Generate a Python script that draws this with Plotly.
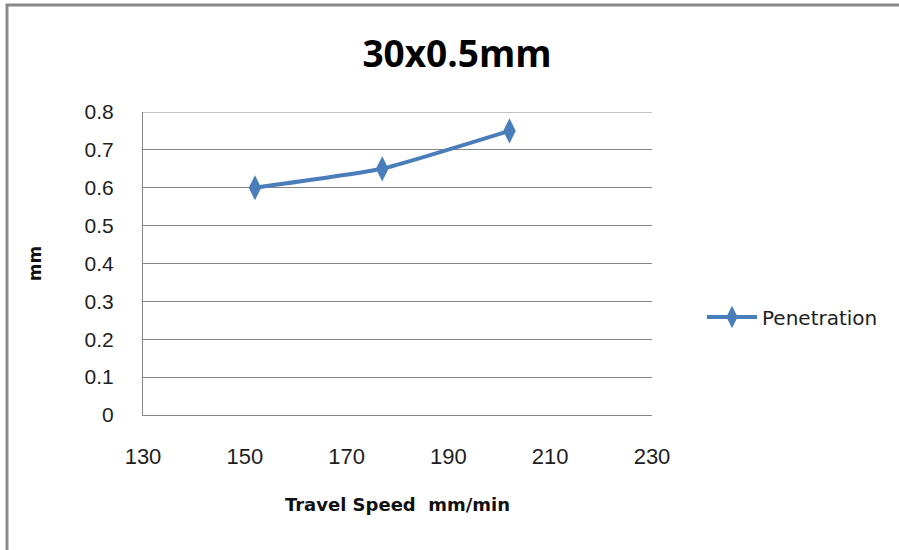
import plotly.graph_objects as go

# Penetration depth versus travel speed
travel_speed = [152, 177, 202]
penetration = [0.60, 0.65, 0.75]

x_ticks = [130, 150, 170, 190, 210, 230]
y_ticks = [0, 0.1, 0.2, 0.3, 0.4, 0.5, 0.6, 0.7, 0.8]
y_tick_text = ["0", "0.1", "0.2", "0.3", "0.4", "0.5", "0.6", "0.7", "0.8"]

BLUE = "#4a7ebb"
GRID = "#868686"
FONT = "Liberation Sans, Arial, sans-serif"
WIDE = "DejaVu Sans, sans-serif"
TEXT = "#1e1e1e"

fig = go.Figure()
fig.add_trace(go.Scatter(
    x=travel_speed,
    y=penetration,
    mode="lines+markers",
    name="Penetration",
    line=dict(color=BLUE, width=4, shape="spline", smoothing=0.4),
    marker=dict(symbol="diamond-tall", size=18, color=BLUE),
))

fig.update_layout(
    width=899,
    height=550,
    margin=dict(l=143, r=247, t=112, b=135),
    paper_bgcolor="white",
    plot_bgcolor="white",
    font=dict(family=FONT, color=TEXT, size=20),
    title=dict(
        text="<b>30x0.5mm</b>",
        x=457 / 899,
        xanchor="center",
        y=1 - 54 / 550,
        yanchor="middle",
        font=dict(family="Open Sans, sans-serif", size=37, color="#000000"),
    ),
    showlegend=True,
    legend=dict(
        x=(702 - 143) / 509,
        y=(415 - 317) / 303,
        xanchor="left",
        yanchor="middle",
        font=dict(family=WIDE, size=20, color=TEXT),
        itemwidth=50,
        bgcolor="rgba(0,0,0,0)",
    ),
    xaxis=dict(
        range=[130, 230],
        tickvals=x_ticks,
        ticktext=[str(v) for v in x_ticks],
        showgrid=False,
        zeroline=False,
        showline=True,
        linecolor=GRID,
        linewidth=1,
        ticks="",
        ticklabelstandoff=22,
        tickfont=dict(size=22, color=TEXT),
        title=dict(
            text="<b>Travel Speed  mm/min</b>",
            font=dict(family=WIDE, size=18, color="#111111"),
            standoff=29,
        ),
        fixedrange=True,
    ),
    yaxis=dict(
        range=[0, 0.8],
        tickvals=y_ticks,
        ticktext=y_tick_text,
        showgrid=True,
        gridcolor=GRID,
        gridwidth=1,
        zeroline=False,
        showline=True,
        linecolor=GRID,
        linewidth=1,
        ticks="",
        ticklabelstandoff=24,
        tickfont=dict(size=21, color=TEXT),
        title=dict(
            text="<b>mm</b>",
            font=dict(family=WIDE, size=17, color="#111111"),
            standoff=38,
        ),
        fixedrange=True,
    ),
)

# Top grid line at the upper bound of the value axis
fig.add_shape(
    type="line", xref="paper", yref="y",
    x0=0, x1=1, y0=0.8, y1=0.8,
    line=dict(color=GRID, width=1),
)

# Outer chart frame
fig.add_shape(
    type="rect", xref="paper", yref="paper",
    x0=(7 - 143) / 509, x1=1.7,
    y0=-0.6, y1=(415 - 5) / 303,
    line=dict(color="#8a8a8a", width=3),
    fillcolor="rgba(0,0,0,0)",
    layer="below",
)

fig.write_html("out.html")
